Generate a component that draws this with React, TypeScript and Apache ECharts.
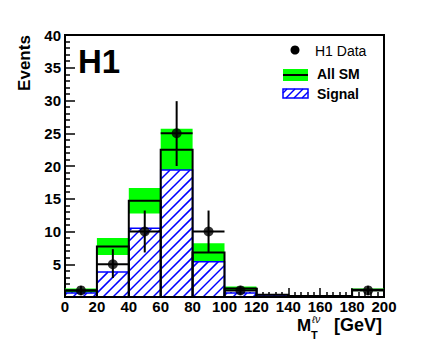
import React, { useEffect, useRef } from "react";
import * as echarts from "echarts";

// ---- data ----
const binLo = [0, 20, 40, 60, 80, 100, 120, 140, 160, 180];
const binWidth = 20;
const smTotal = [1.0, 7.7, 14.7, 22.5, 6.8, 1.3, 0.35, 0.15, 0.15, 1.1];
const smErr = [0.3, 1.3, 1.95, 3.2, 1.4, 0.3, 0.1, 0.05, 0.05, 0.2];
const signal = [0.6, 3.8, 10.5, 19.4, 5.4, 0.6, 0.3, 0.1, 0.05, 0.05];

const dataX = [10, 30, 50, 70, 90, 110, 190];
const dataY = [1, 5, 10, 25, 10, 1, 1];
const dataErrLo = [0.7, 2.1, 3.2, 5.0, 3.2, 0.7, 0.7];
const dataErrHi = [0.7, 2.3, 3.2, 4.9, 3.2, 0.7, 0.7];

const xTicks = [0, 20, 40, 60, 80, 100, 120, 140, 160, 180, 200];
const yTicks = [0, 5, 10, 15, 20, 25, 30, 35, 40];

const FONT = '"Liberation Sans", Arial, Helvetica, sans-serif';
const BLUE = "#0000ff";
const GREEN = "#00ff00";

function hatchLines(xa: number, ya: number, xb: number, yb: number, step: number, lw: number) {
  const out: any[] = [];
  const kStart = Math.floor((xa + ya) / step) * step;
  for (let k = kStart; k <= xb + yb + step; k += step) {
    const xs = Math.max(xa, k - yb);
    const xe = Math.min(xb, k - ya);
    if (xe > xs) {
      out.push({
        type: "line",
        shape: { x1: xs, y1: k - xs, x2: xe, y2: k - xe },
        style: { stroke: BLUE, lineWidth: lw },
        silent: true,
      });
    }
  }
  return out;
}

export default function App() {
  const ref = useRef<HTMLDivElement>(null);
  useEffect(() => {
    document.body.style.margin = "0";
    if (!ref.current) return;
    const chart = echarts.init(ref.current, null, { renderer: "svg" });

    const bandData = binLo.map((lo, i) => [lo, smTotal[i] - smErr[i], smTotal[i] + smErr[i]]);
    const sigData = binLo.map((lo, i) => [lo, signal[i]]);
    const smData = binLo.map((lo, i) => [lo, smTotal[i]]);
    const errData = dataX.map((x, i) => [x, dataY[i], dataErrLo[i], dataErrHi[i]]);
    const ptData = dataX.map((x, i) => [x, dataY[i]]);

    const legendHatch = hatchLines(283, 89, 308, 98, 8, 1.5);

    chart.setOption({
      animation: false,
      backgroundColor: "#ffffff",
      grid: {
        left: 65,
        top: 35,
        right: 43,
        bottom: 54,
        show: true,
        borderColor: "#000",
        borderWidth: 2,
        backgroundColor: "transparent",
      },
      xAxis: {
        type: "value",
        min: xTicks[0],
        max: xTicks[xTicks.length - 1],
        interval: xTicks[1] - xTicks[0],
        axisLine: { show: true, onZero: false, lineStyle: { color: "#000", width: 2 } },
        axisTick: { show: true, inside: true, length: 9, lineStyle: { color: "#000", width: 1.5 } },
        minorTick: { show: true, splitNumber: 5, length: 5, lineStyle: { color: "#000", width: 1.5 } },
        splitLine: { show: false },
        axisLabel: {
          color: "#000",
          fontFamily: FONT,
          fontWeight: "bold",
          fontSize: 15,
          lineHeight: 13,
          margin: 3,
          showMinLabel: true,
          showMaxLabel: true,
        },
      },
      yAxis: {
        type: "value",
        min: yTicks[0],
        max: yTicks[yTicks.length - 1],
        interval: yTicks[1] - yTicks[0],
        axisLine: { show: true, onZero: false, lineStyle: { color: "#000", width: 2 } },
        axisTick: { show: true, inside: true, length: 10, lineStyle: { color: "#000", width: 1.5 } },
        minorTick: { show: true, splitNumber: 5, length: 5, lineStyle: { color: "#000", width: 1.5 } },
        splitLine: { show: false },
        axisLabel: {
          color: "#000",
          fontFamily: FONT,
          fontWeight: "bold",
          fontSize: 15,
          margin: 4,
          formatter: (v: number) => (v === 0 ? "" : String(v)),
        },
      },
      series: [
        {
          type: "custom",
          name: "band",
          z: 1,
          data: bandData,
          encode: { x: 0, y: [1, 2] },
          renderItem: (params: any, api: any) => {
            const lo = api.value(0);
            const p0 = api.coord([lo, api.value(2)]);
            const p1 = api.coord([lo + binWidth, api.value(1)]);
            return {
              type: "rect",
              shape: { x: p0[0], y: p0[1], width: p1[0] - p0[0], height: p1[1] - p0[1] },
              style: { fill: GREEN, stroke: "none" },
            };
          },
        },
        {
          type: "custom",
          name: "signal",
          z: 2,
          data: sigData,
          encode: { x: 0, y: 1 },
          renderItem: (params: any, api: any) => {
            const lo = api.value(0);
            const p0 = api.coord([lo, api.value(1)]);
            const p1 = api.coord([lo + binWidth, 0]);
            const children: any[] = [
              {
                type: "rect",
                shape: { x: p0[0], y: p0[1], width: p1[0] - p0[0], height: p1[1] - p0[1] },
                style: { fill: "#fff", stroke: "none" },
              },
              ...hatchLines(p0[0], p0[1], p1[0], p1[1], 10, 1.5),
              {
                type: "rect",
                shape: { x: p0[0], y: p0[1], width: p1[0] - p0[0], height: p1[1] - p0[1] },
                style: { fill: "none", stroke: BLUE, lineWidth: 1.5 },
              },
            ];
            return { type: "group", children };
          },
        },
        {
          type: "custom",
          name: "sm",
          z: 3,
          data: smData,
          encode: { x: 0, y: 1 },
          renderItem: (params: any, api: any) => {
            const lo = api.value(0);
            const p0 = api.coord([lo, api.value(1)]);
            const p1 = api.coord([lo + binWidth, 0]);
            return {
              type: "rect",
              shape: { x: p0[0], y: p0[1], width: p1[0] - p0[0], height: p1[1] - p0[1] },
              style: { fill: "none", stroke: "#000", lineWidth: 2 },
            };
          },
        },
        {
          type: "custom",
          name: "errors",
          z: 4,
          data: errData,
          encode: { x: 0, y: 1 },
          renderItem: (params: any, api: any) => {
            const x = api.value(0);
            const y = api.value(1);
            const a = api.coord([x, y - api.value(2)]);
            const b = api.coord([x, y + api.value(3)]);
            const l = api.coord([x - binWidth / 2, y]);
            const r = api.coord([x + binWidth / 2, y]);
            return {
              type: "group",
              children: [
                { type: "line", shape: { x1: a[0], y1: a[1], x2: b[0], y2: b[1] }, style: { stroke: "#000", lineWidth: 2 } },
                { type: "line", shape: { x1: l[0], y1: l[1], x2: r[0], y2: r[1] }, style: { stroke: "#000", lineWidth: 2 } },
              ],
            };
          },
        },
        {
          type: "scatter",
          name: "H1 Data",
          z: 5,
          data: ptData,
          symbol: "circle",
          symbolSize: 10,
          itemStyle: { color: "#000" },
        },
      ],
      graphic: [
        {
          type: "text",
          x: 78,
          y: 61,
          style: { text: "H1", font: `bold 33px ${FONT}`, fill: "#000", verticalAlign: "middle", align: "left" },
        },
        {
          type: "text",
          x: 24,
          y: 63,
          rotation: Math.PI / 2,
          style: { text: "Events", font: `bold 17px ${FONT}`, fill: "#000", align: "center", verticalAlign: "middle" },
        },
        { type: "circle", shape: { cx: 295, cy: 50, r: 4.5 }, style: { fill: "#000" } },
        {
          type: "text",
          x: 315,
          y: 51,
          style: { text: "H1 Data", font: `14px ${FONT}`, fill: "#000", verticalAlign: "middle" },
        },
        { type: "rect", shape: { x: 283, y: 69, width: 25, height: 12 }, style: { fill: GREEN } },
        { type: "line", shape: { x1: 283, y1: 75, x2: 308, y2: 75 }, style: { stroke: "#000", lineWidth: 2 } },
        {
          type: "text",
          x: 317,
          y: 74,
          style: { text: "All SM", font: `bold 14px ${FONT}`, fill: "#000", verticalAlign: "middle" },
        },
        { type: "rect", shape: { x: 283, y: 89, width: 25, height: 9 }, style: { fill: "#fff" } },
        ...legendHatch,
        { type: "rect", shape: { x: 283, y: 89, width: 25, height: 9 }, style: { fill: "none", stroke: BLUE, lineWidth: 1.5 } },
        {
          type: "text",
          x: 317,
          y: 94,
          style: { text: "Signal", font: `bold 14px ${FONT}`, fill: "#000", verticalAlign: "middle" },
        },
        {
          type: "text",
          x: 297,
          y: 325,
          style: { text: "M", font: `bold 17px ${FONT}`, lineHeight: 14, fill: "#000", verticalAlign: "middle" },
        },
        {
          type: "text",
          x: 311,
          y: 335,
          style: { text: "T", font: `bold 11px ${FONT}`, lineHeight: 9, fill: "#000", verticalAlign: "middle" },
        },
        {
          type: "text",
          x: 312,
          y: 319,
          style: { text: "ℓν", font: `italic 10px ${FONT}`, lineHeight: 9, fill: "#000", verticalAlign: "middle" },
        },
        {
          type: "text",
          x: 382,
          y: 325,
          style: { text: "[GeV]", font: `bold 18px ${FONT}`, lineHeight: 14, fill: "#000", verticalAlign: "middle", align: "right" },
        },
      ],
    });
    return () => chart.dispose();
  }, []);
  return <div ref={ref} style={{ position: "absolute", left: 0, top: 0, width: 427, height: 351 }} />;
}
